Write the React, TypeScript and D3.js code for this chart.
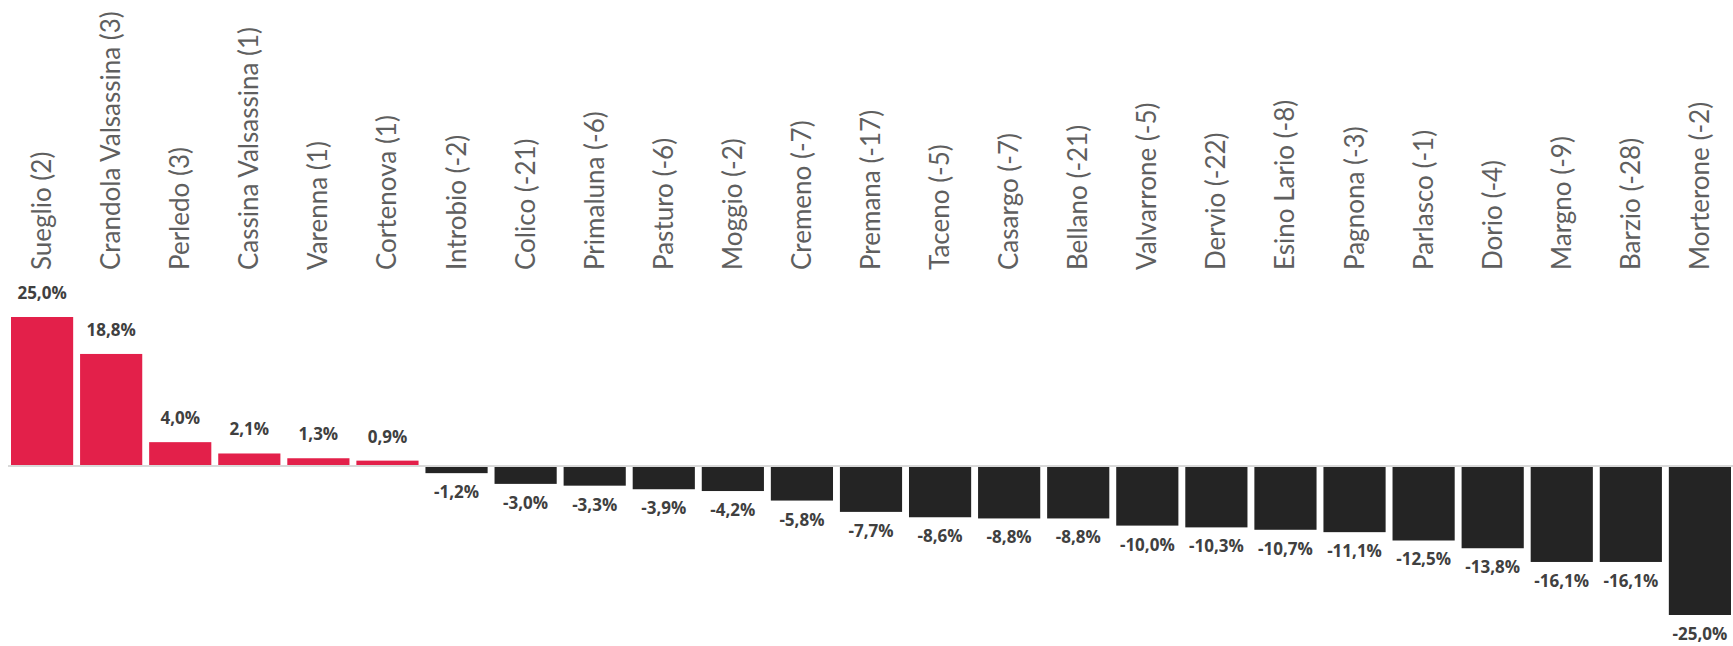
import { useEffect } from "react";
import * as d3 from "d3";

const towns = [
  "Sueglio (2)", "Crandola Valsassina (3)", "Perledo (3)", "Cassina Valsassina (1)", "Varenna (1)",
  "Cortenova (1)", "Introbio (-2)", "Colico (-21)", "Primaluna (-6)", "Pasturo (-6)", "Moggio (-2)",
  "Cremeno (-7)", "Premana (-17)", "Taceno (-5)", "Casargo (-7)", "Bellano (-21)", "Valvarrone (-5)",
  "Dervio (-22)", "Esino Lario (-8)", "Pagnona (-3)", "Parlasco (-1)", "Dorio (-4)", "Margno (-9)",
  "Barzio (-28)", "Morterone (-2)",
];

const changePct = [
  25.0, 18.8, 4.0, 2.1, 1.3, 0.9, -1.2, -3.0, -3.3, -3.9, -4.2, -5.8, -7.7, -8.6, -8.8, -8.8,
  -10.0, -10.3, -10.7, -11.1, -12.5, -13.8, -16.1, -16.1, -25.0,
];

const width = 1733;
const height = 646;

export default function App() {
  useEffect(() => {
    document.body.style.margin = "0";
  }, []);

  const x = d3.scaleBand<string>()
    .domain(towns)
    .range([11, 1731])
    .paddingInner(0.1)
    .paddingOuter(0);

  const y = d3.scaleLinear().domain([-25, 25]).range([615, 317]);
  const fmt = (v: number) => v.toFixed(1).replace(".", ",") + "%";

  return (
    <svg width={width} height={height} style={{ display: "block", background: "#fff" }}>
      {/* category labels */}
      {towns.map((t) => {
        const cx = (x(t) || 0) + x.bandwidth() / 2;
        return (
          <text
            key={"l" + t}
            transform={`translate(${cx + 9},270) rotate(-90)`}
            textAnchor="start"
            fill="#5f5f5f"
            fontSize="26px"
            fontFamily="Lato, sans-serif"
          >
            {t}
          </text>
        );
      })}

      {/* bars */}
      {towns.map((t, i) => {
        const v = changePct[i];
        return (
          <rect
            key={"b" + t}
            x={x(t) || 0}
            y={Math.min(y(v), y(0))}
            width={x.bandwidth()}
            height={Math.abs(y(v) - y(0))}
            fill={v >= 0 ? "#e3204a" : "#242424"}
          />
        );
      })}

      {/* zero line */}
      <line x1={8} x2={1733} y1={y(0)} y2={y(0)} stroke="#d9d9d9" strokeWidth={2} />

      {/* value labels */}
      {towns.map((t, i) => {
        const v = changePct[i];
        const cx = (x(t) || 0) + x.bandwidth() / 2;
        return (
          <text
            key={"v" + t}
            x={Math.min(cx, width - 33)}
            y={v >= 0 ? y(v) - 24 : y(v) + 19}
            dy="0.35em"
            textAnchor="middle"
            fill="#404040"
            fontSize="17px"
            fontWeight="bold"
            fontFamily="'Open Sans', sans-serif"
          >
            {fmt(v)}
          </text>
        );
      })}
    </svg>
  );
}
